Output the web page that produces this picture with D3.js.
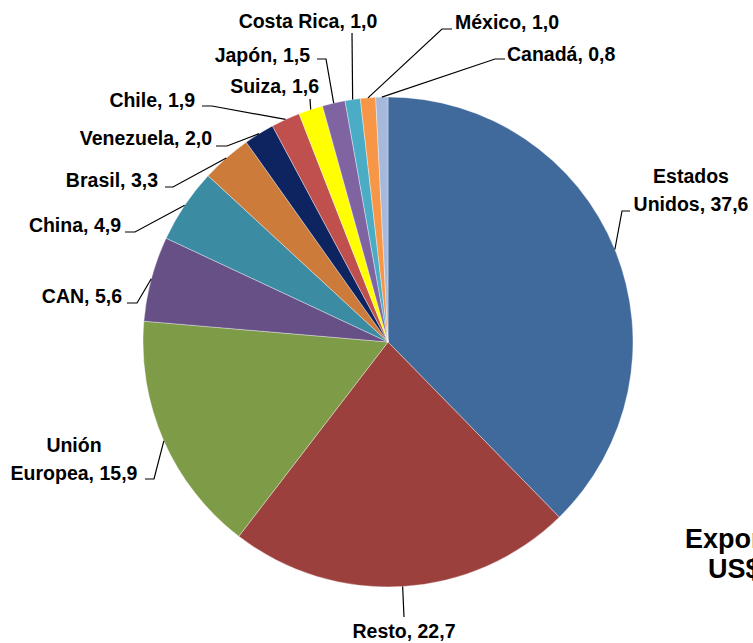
<!DOCTYPE html>
<html>
<head>
<meta charset="utf-8">
<script src="https://cdn.jsdelivr.net/npm/d3@7"></script>
<style>
  body { margin: 0; background: #fff; overflow: hidden; }
  .lbl { font-family: "Liberation Sans", Arial, sans-serif; font-weight: bold; font-size: 19.5px; fill: #000; }
  .ttl { font-family: "Liberation Sans", Arial, sans-serif; font-weight: bold; font-size: 27px; fill: #000; }
  .leader { fill: none; stroke: #000; stroke-width: 1.2; }
</style>
</head>
<body>
<svg id="chart" width="753" height="643"></svg>
<script>
'use strict'

// datos del grafico
const categories = ["Estados Unidos", "Resto", "Unión Europea", "CAN", "China", "Brasil",
  "Venezuela", "Chile", "Suiza", "Japón", "Costa Rica", "México", "Canadá"]
const values = [37.6, 22.7, 15.9, 5.6, 4.9, 3.3, 2.0, 1.9, 1.6, 1.5, 1.0, 1.0, 0.8]
const sliceColors = ["#416A9C", "#9C403D", "#7E9B48", "#665086", "#3B8CA3", "#CD7B3A",
  "#0D2460", "#C0504D", "#FFFF00", "#8064A2", "#4BACC6", "#F79646", "#A7B9DA"]
const titleLines = ["Exportaciones", "US$ millones"]

// posicion de las etiquetas (lineas de texto, ancla, codo de la guia)
const labelLayout = {
  "Estados Unidos": { lines: ["Estados", "Unidos, 37,6"], x: 691, y: 183, anchor: "middle", elbow: [[622, 211], [630, 211]] },
  "Resto":          { lines: ["Resto, 22,7"], x: 404, y: 638, anchor: "middle", elbow: [[404, 617]] },
  "Unión Europea":  { lines: ["Unión", "Europea, 15,9"], x: 74, y: 452, anchor: "middle", elbow: [[154, 479], [145, 479]] },
  "CAN":            { lines: ["CAN, 5,6"], x: 122, y: 303, anchor: "end", elbow: [[137, 303], [127, 303]] },
  "China":          { lines: ["China, 4,9"], x: 121, y: 232, anchor: "end", elbow: [[135, 232], [125, 232]] },
  "Brasil":         { lines: ["Brasil, 3,3"], x: 158, y: 187, anchor: "end", elbow: [[173, 187], [165, 187]] },
  "Venezuela":      { lines: ["Venezuela, 2,0"], x: 212, y: 145, anchor: "end", elbow: [[227, 146], [216, 146]] },
  "Chile":          { lines: ["Chile, 1,9"], x: 195, y: 107, anchor: "end", elbow: [[212, 106], [202, 106]] },
  "Suiza":          { lines: ["Suiza, 1,6"], x: 319, y: 93, anchor: "end", elbow: [[310, 99]] },
  "Japón":          { lines: ["Japón, 1,5"], x: 310, y: 62, anchor: "end", elbow: [[326, 59], [317, 59]] },
  "Costa Rica":     { lines: ["Costa Rica, 1,0"], x: 308, y: 28, anchor: "middle", elbow: [[352, 33]] },
  "México":         { lines: ["México, 1,0"], x: 455, y: 29, anchor: "start", elbow: [[442, 29], [452, 29]] },
  "Canadá":         { lines: ["Canadá, 0,8"], x: 507, y: 61, anchor: "start", elbow: [[495, 59], [505, 59]] }
}

const cx = 388, cy = 342, radius = 245

const svg = d3.select("#chart")
const g = svg.append("g").attr("transform", "translate(" + cx + "," + cy + ")")

const pie = d3.pie().sort(null).value(function(d){ return d.v })
const arcs = pie(categories.map(function(c, i){ return { name: c, v: values[i], color: sliceColors[i] } }))

const arc = d3.arc().innerRadius(0).outerRadius(radius)
const edgeArc = d3.arc().innerRadius(radius).outerRadius(radius)

g.selectAll("path.slice")
  .data(arcs)
  .join("path")
  .attr("class", "slice")
  .attr("d", arc)
  .attr("fill", function(d){ return d.data.color })
  .attr("stroke", "#ffffff")
  .attr("stroke-opacity", 0.6)
  .attr("stroke-width", 0.6)

// guias
const line = d3.line()
arcs.forEach(function(d){
  let lay = labelLayout[d.data.name]
  let p = edgeArc.centroid(d)
  let pts = [[p[0] + cx, p[1] + cy]].concat(lay.elbow)
  svg.append("path").attr("class", "leader").attr("d", line(pts))

  let t = svg.append("text")
    .attr("class", "lbl")
    .attr("text-anchor", lay.anchor)
    .attr("x", lay.x)
    .attr("y", lay.y)
  lay.lines.forEach(function(s, k){
    t.append("tspan").attr("x", lay.x).attr("dy", k == 0 ? 0 : 28).text(s)
  })
})

// titulo (cortado en el borde, como en el original)
svg.append("text").attr("class", "ttl").attr("x", 685).attr("y", 548).text(titleLines[0])
svg.append("text").attr("class", "ttl").attr("x", 708).attr("y", 578).text(titleLines[1])
</script>
</body>
</html>
